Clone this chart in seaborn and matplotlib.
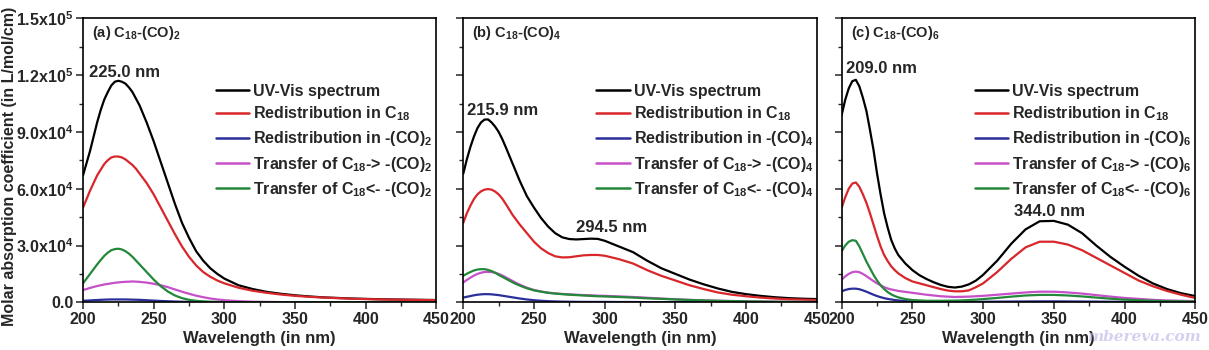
import numpy as np
import pandas as pd
import matplotlib
matplotlib.use("Agg")
import matplotlib.pyplot as plt
import seaborn as sns

# ---------------- data (values in units of 1e3 L/mol/cm) ----------------
wavelength = [200, 202.5, 205, 207.5, 210, 212.5, 215, 217.5, 220, 222.5, 225, 227.5,
              230, 232.5, 235, 237.5, 240, 245, 250, 255, 260, 265,
              270, 275, 280, 285, 290, 295, 300, 310, 320, 330, 340, 350, 360, 370,
              380, 390, 400, 410, 420, 430, 440, 450]

# panel (a) C18-(CO)2
a_uvvis = [67, 73.5, 80, 87.5, 95, 101.5, 107, 111, 114.5, 116.5, 117, 116.5,
           115.5, 113.5, 111, 107.5, 104, 95, 85, 74, 63, 52,
           42, 34, 27, 22, 18, 15, 12.5, 9, 7, 5.5, 4.5, 3.7, 3.1, 2.6,
           2.3, 2.0, 1.8, 1.6, 1.5, 1.4, 1.3, 1.2]
a_redC = [50, 54.5, 59, 63, 67, 70, 73, 75, 76.5, 77, 77, 76.5,
          75.5, 74, 72.5, 70.5, 68, 63, 57, 50, 43, 36,
          29.5, 24, 19.5, 16, 13.5, 11.5, 10, 7.7, 6.1, 5.0, 4.1, 3.4, 2.9, 2.5,
          2.2, 1.9, 1.7, 1.5, 1.4, 1.3, 1.2, 1.1]
a_redCO = [0.8, 0.9, 1.0, 1.1, 1.2, 1.3, 1.4, 1.45, 1.5, 1.5, 1.5, 1.5,
           1.5, 1.45, 1.4, 1.35, 1.3, 1.1, 0.9, 0.7, 0.55, 0.4,
           0.3, 0.25, 0.2, 0.15, 0.12, 0.1, 0.1, 0.1, 0.1, 0.1, 0.1, 0.1, 0.1, 0.1,
           0.1, 0.1, 0.1, 0.1, 0.1, 0.1, 0.1, 0.1]
a_tr_fwd = [6.5, 7.0, 7.6, 8.1, 8.6, 9.0, 9.4, 9.7, 10, 10.3, 10.5, 10.7,
            10.8, 10.9, 11, 10.9, 10.8, 10.4, 9.8, 9, 8, 6.8,
            5.6, 4.5, 3.5, 2.7, 2.0, 1.5, 1.1, 0.6, 0.3, 0.2, 0.1, 0.05, 0.05, 0.05,
            0.05, 0.05, 0.05, 0.05, 0.05, 0.05, 0.05, 0.05]
a_tr_bwd = [10, 12.5, 15, 17.5, 20, 22.3, 24.5, 26.2, 27.5, 28.1, 28.3, 27.9,
            27, 25.7, 24, 22, 20, 16, 12, 8.5, 5.7, 3.6,
            2.2, 1.3, 0.8, 0.5, 0.3, 0.2, 0.1, 0.05, 0.05, 0.05, 0.05, 0.05, 0.05, 0.05,
            0.05, 0.05, 0.05, 0.05, 0.05, 0.05, 0.05, 0.05]

# panel (b) C18-(CO)4
b_uvvis = [68, 75.5, 82, 87.5, 92, 95, 96.5, 96.6, 95, 92.8, 90, 86.3,
           82, 77.5, 73, 68.5, 64, 56, 50, 44.5, 40, 36.5,
           34.3, 33.4, 33.2, 33.4, 33.6, 33.5, 32.5, 29.5, 26.5, 22, 18, 15, 12, 9.5,
           7.3, 5.5, 4.3, 3.4, 2.7, 2.2, 1.9, 1.7]
b_redC = [42, 47, 51, 54.5, 57, 58.6, 59.5, 59.8, 59.5, 58.5, 57, 54.8,
          52, 49, 46, 43.5, 41, 36.5, 32, 28.5, 26, 24.3,
          23.7, 23.8, 24.3, 24.8, 25, 25, 24.6, 22.8, 20.5, 17, 14, 11.5, 9, 7,
          5.2, 4.0, 3.2, 2.5, 2.0, 1.6, 1.4, 1.2]
b_redCO = [2.5, 2.9, 3.3, 3.7, 4.0, 4.2, 4.3, 4.3, 4.2, 4.0, 3.8, 3.5,
           3.2, 2.9, 2.6, 2.3, 2.0, 1.5, 1.1, 0.8, 0.6, 0.45,
           0.35, 0.3, 0.25, 0.2, 0.2, 0.2, 0.2, 0.15, 0.15, 0.1, 0.1, 0.1, 0.1, 0.1,
           0.1, 0.1, 0.1, 0.1, 0.1, 0.1, 0.1, 0.1]
b_tr_fwd = [10.5, 11.8, 13, 14.1, 15, 15.6, 16, 16.1, 16, 15.6, 15, 14.2,
            13.2, 12.2, 11.2, 10.2, 9.3, 7.7, 6.5, 5.7, 5.1, 4.7,
            4.4, 4.2, 4.0, 3.8, 3.7, 3.5, 3.4, 3.1, 2.8, 2.4, 2.0, 1.6, 1.3, 1.0,
            0.8, 0.65, 0.5, 0.4, 0.3, 0.25, 0.2, 0.2]
b_tr_bwd = [14, 15.1, 16, 16.8, 17.3, 17.5, 17.5, 17.1, 16.5, 15.6, 14.5, 13.5,
            12.5, 11.5, 10.5, 9.6, 8.8, 7.4, 6.3, 5.6, 5.0, 4.6,
            4.3, 4.0, 3.8, 3.6, 3.4, 3.2, 3.1, 2.8, 2.5, 2.1, 1.8, 1.5, 1.2, 1.0,
            0.8, 0.65, 0.5, 0.4, 0.3, 0.25, 0.2, 0.2]

# panel (c) C18-(CO)6
c_uvvis = [99, 107, 113, 116.8, 117.5, 114, 108, 101, 91, 80.5, 68, 57,
           47, 39.5, 33, 28.5, 25, 20.5, 17, 14.3, 12.3, 10.6,
           9.2, 8.2, 7.8, 8.3, 9.5, 11.5, 14.5, 22, 31, 38.5, 42.8, 43, 41, 36.5,
           30, 24, 18.8, 14, 10, 7, 4.8, 3.3]
c_redC = [50, 55.5, 60, 62.7, 63.3, 61, 57, 52.5, 47, 41, 35, 29.5,
          25, 21.8, 19, 17, 15.3, 12.8, 11, 10, 9, 8,
          7, 6.2, 5.8, 5.8, 6.3, 8, 10, 16, 23, 29, 32, 32, 30.5, 27.5,
          23.5, 19.5, 15.5, 11.5, 8.5, 6, 4, 2.3]
c_redCO = [5.8, 6.5, 7.0, 7.2, 7.2, 6.9, 6.3, 5.6, 4.8, 4.0, 3.3, 2.7,
           2.2, 1.8, 1.5, 1.2, 1.0, 0.7, 0.5, 0.4, 0.3, 0.25,
           0.2, 0.2, 0.2, 0.25, 0.3, 0.3, 0.3, 0.35, 0.4, 0.45, 0.5, 0.5, 0.45, 0.4,
           0.35, 0.3, 0.25, 0.2, 0.15, 0.12, 0.1, 0.1]
c_tr_fwd = [12, 13.7, 15, 15.9, 16.2, 15.9, 15, 13.8, 12.5, 11.2, 10, 9,
            8, 7.3, 6.8, 6.4, 6, 5.5, 5, 4.5, 4, 3.6,
            3.2, 3.0, 2.8, 2.9, 3.0, 3.2, 3.4, 4.0, 4.6, 5.2, 5.6, 5.6, 5.2, 4.6,
            3.8, 3.0, 2.3, 1.8, 1.3, 1.0, 0.8, 0.6]
c_tr_bwd = [27, 30, 32, 32.8, 32.5, 29.5, 25.5, 21.5, 18, 14.5, 11.5, 9,
            7, 5.4, 4.2, 3.3, 2.6, 1.7, 1.2, 1.0, 0.8, 0.8,
            0.8, 0.85, 0.9, 1.0, 1.2, 1.4, 1.7, 2.3, 3.0, 3.6, 3.9, 3.9, 3.6, 3.1,
            2.5, 1.9, 1.4, 1.1, 0.8, 0.6, 0.5, 0.4]

panel_titles = [r"(a) C$_{18}$-(CO)$_2$", r"(b) C$_{18}$-(CO)$_4$", r"(c) C$_{18}$-(CO)$_6$"]
co_subs = ["2", "4", "6"]
peak_labels = [[("225.0 nm", 229, 121.5)],
               [("215.9 nm", 228, 101.5), ("294.5 nm", 305, 39.5)],
               [("209.0 nm", 228, 123.5), ("344.0 nm", 347, 48)]]
y_ticks = [0, 30000, 60000, 90000, 120000, 150000]
y_ticklabels = ["0.0", r"3.0x10$^4$", r"6.0x10$^4$", r"9.0x10$^4$", r"1.2x10$^5$", r"1.5x10$^5$"]
x_ticks = [200, 250, 300, 350, 400, 450]

panels = [
    [a_uvvis, a_redC, a_redCO, a_tr_fwd, a_tr_bwd],
    [b_uvvis, b_redC, b_redCO, b_tr_fwd, b_tr_bwd],
    [c_uvvis, c_redC, c_redCO, c_tr_fwd, c_tr_bwd],
]
colors = ["#000000", "#d8262a", "#2a2f9a", "#c650c8", "#23883a"]

# ---------------- style ----------------
sns.set_theme(style="white")
plt.rcParams["font.family"] = ["Liberation Sans", "DejaVu Sans"]
plt.rcParams["font.weight"] = "bold"
plt.rcParams["mathtext.default"] = "regular"
plt.rcParams["axes.labelweight"] = "bold"

fig = plt.figure(figsize=(12.09, 3.5), dpi=100)
lefts = [83 / 1209, 463.3 / 1209, 841.7 / 1209]
width = 353.5 / 1209
bottom = 1 - 302.3 / 350
height = (302.3 - 18.3) / 350

for i, series in enumerate(panels):
    ax = fig.add_axes([lefts[i], bottom, width, height])
    sub = co_subs[i]
    labels = ["UV-Vis spectrum",
              r"Redistribution in C$_{18}$",
              r"Redistribution in -(CO)$_%s$" % sub,
              r"Transfer of C$_{18}$-> -(CO)$_%s$" % sub,
              r"Transfer of C$_{18}$<- -(CO)$_%s$" % sub]
    for vals, col, lab in zip(series, colors, labels):
        df = pd.DataFrame({"wl": wavelength, "eps": np.array(vals) * 1000.0})
        sns.lineplot(data=df, x="wl", y="eps", ax=ax, color=col, lw=1.6, label=lab)
    ax.set_xlim(200, 450)
    ax.set_ylim(0, 150000)
    ax.set_xticks(x_ticks)
    ax.set_xticks([225, 275, 325, 375, 425], minor=True)
    ax.set_yticks(y_ticks)
    ax.set_yticks([15000, 45000, 75000, 105000, 135000], minor=True)
    ax.tick_params(axis="both", which="major", direction="out", length=5, width=1.1,
                   labelsize=11.5, left=True, bottom=True, top=False, right=False, pad=2)
    ax.tick_params(axis="both", which="minor", direction="out", length=3, width=1.0,
                   left=True, bottom=True, top=False, right=False)
    if i == 0:
        ax.set_yticklabels(y_ticklabels)
    else:
        ax.set_yticklabels([])
    ax.set_ylabel("")
    for lbl in ax.get_xticklabels() + ax.get_yticklabels():
        lbl.set_fontweight("bold")
    ax.set_xlabel("Wavelength (in nm)", fontsize=12, fontweight="bold", labelpad=3)
    for sp in ax.spines.values():
        sp.set_color("black")
        sp.set_linewidth(1.2)
    ax.text(0.025, 0.948, panel_titles[i], transform=ax.transAxes, fontsize=10.5,
            fontweight="bold", ha="left", va="center")
    for txt, xv, yv in peak_labels[i]:
        ax.text(xv, yv * 1000, txt, fontsize=12, fontweight="bold", ha="center", va="center")
    leg = ax.legend(loc="upper left", bbox_to_anchor=(0.376, 0.77), frameon=False,
                    fontsize=11.5, handlelength=2.1, handletextpad=0.25,
                    labelspacing=0.38, borderpad=0, borderaxespad=0)
    for t in leg.get_texts():
        t.set_fontweight("bold")
    for h in leg.get_lines():
        h.set_linewidth(1.8)

fig.text(10 / 1209, 1 - 166 / 350, "Molar absorption coefficient (in L/mol/cm)",
         rotation=90, ha="center", va="center", fontsize=11.5, fontweight="bold")

fig.text(1087 / 1209, 1 - 337 / 350, "mbereva.com", fontsize=11, family="DejaVu Serif",
         style="italic", fontweight="bold", color="#b9b2e6", alpha=0.6, ha="left", va="center")

fig.savefig("out.png", dpi=100)
